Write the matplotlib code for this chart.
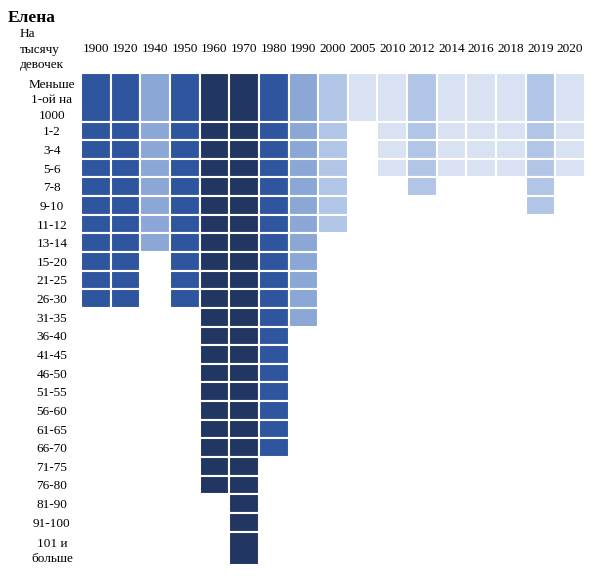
import matplotlib.pyplot as plt
import numpy as np

# годы и сколько строк заполнено в каждом столбце
years = ["1900", "1920", "1940", "1950", "1960", "1970", "1980", "1990", "2000",
         "2005", "2010", "2012", "2014", "2016", "2018", "2019", "2020"]
filled_rows = [11, 11, 8, 11, 21, 24, 19, 12, 7, 1, 4, 5, 4, 4, 4, 6, 4]
shade_level = [3, 3, 2, 3, 4, 4, 3, 2, 1, 0, 0, 1, 0, 0, 0, 1, 0]

row_labels = ["Меньше\n1-ой на\n1000", "1-2", "3-4", "5-6", "7-8", "9-10", "11-12",
              "13-14", "15-20", "21-25", "26-30", "31-35", "36-40", "41-45", "46-50",
              "51-55", "56-60", "61-65", "66-70", "71-75", "76-80", "81-90", "91-100",
              "101 и\nбольше"]

palette = ["#D9E2F3", "#B1C5E7", "#8AA7D6", "#2E559E", "#213663"]

# высота строки зависит от числа строк в подписи
row_h = np.array([2.6] + [1.0] * 22 + [1.8])
row_top = np.concatenate([[0], np.cumsum(row_h)[:-1]])

plt.rcParams['font.family'] = ['Liberation Serif', 'DejaVu Serif']

fig = plt.figure(figsize=(6, 5.76), dpi=100)
ax = fig.add_axes([0.135, 0.019, 0.84, 0.854])

for i, n in enumerate(filled_rows):
    ax.bar(i, row_h[:n], bottom=row_top[:n], width=1.0,
           color=palette[shade_level[i]], edgecolor="white", linewidth=1.5)

ax.set_xlim(-0.5, len(years) - 0.5)
ax.set_ylim(row_h.sum(), 0)

ax.xaxis.tick_top()
ax.set_xticks(range(len(years)))
ax.set_xticklabels(years, fontsize=9.5)
ax.tick_params(axis="x", length=0, pad=13)

ax.set_yticks(row_top + row_h / 2)
ax.set_yticklabels(row_labels, fontsize=9.5, ha="center", linespacing=1.35)
ax.tick_params(axis="y", length=0, pad=21)

for s in ax.spines.values():
    s.set_visible(False)

fig.text(0.013, 0.968, "Елена", fontsize=12.5, fontweight="bold", va="center")
fig.text(0.033, 0.914, "На\nтысячу\nдевочек", fontsize=9.5, va="center", ha="left",
         linespacing=1.35)

fig.savefig("out.png", dpi=100)
